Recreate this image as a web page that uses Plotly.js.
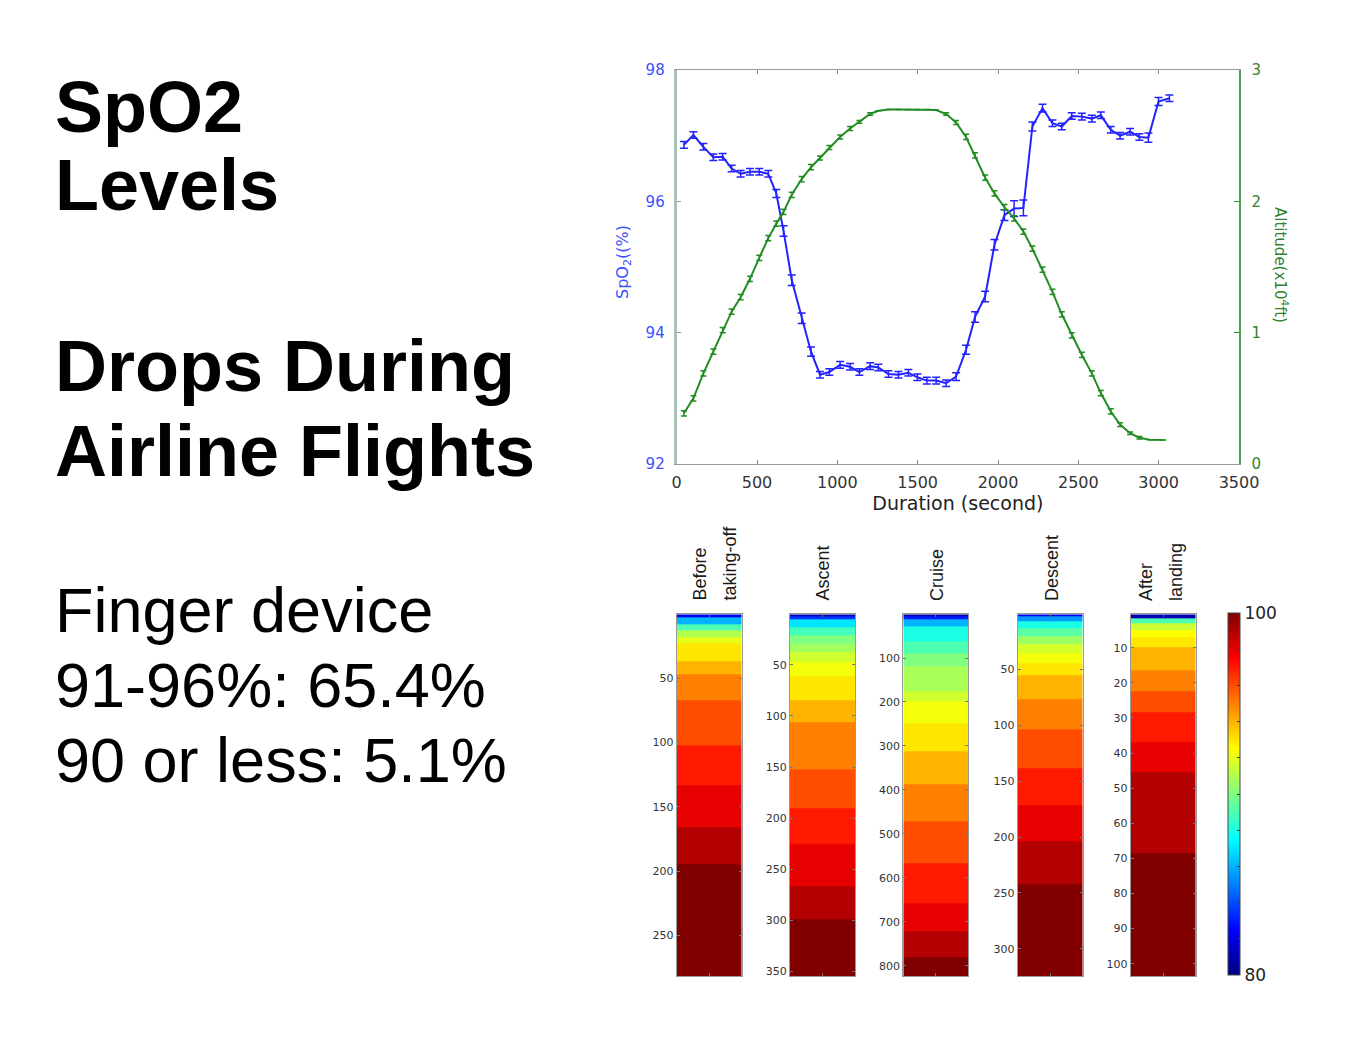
<!DOCTYPE html>
<html>
<head>
<meta charset="utf-8">
<script src="https://cdn.plot.ly/plotly-3.0.1.min.js"></script>
<style>html,body{margin:0;padding:0;background:#fff;}#chart{width:1366px;height:1038px;}</style>
</head>
<body>
<div id="chart"></div>
<script>
// ---------- DATA ----------
// Top chart: mean SpO2 (%) and altitude (x10^4 ft) vs flight duration (s)
const timeSpO2 = [45,104,166,228,286,342,398,456,514,570,620,665,716,778,836,892,950,1017,1079,1137,1204,1255,1318,1380,1442,1498,1557,1615,1677,1739,1801,1857,1920,1978,2040,2100,2158,2214,2277,2339,2397,2459,2522,2584,2640,2702,2760,2822,2880,2936,2999,3067];
const spo2 = [96.86,97.01,96.83,96.67,96.68,96.50,96.42,96.45,96.45,96.42,96.12,95.55,94.80,94.22,93.71,93.36,93.40,93.51,93.48,93.40,93.49,93.47,93.37,93.36,93.39,93.32,93.27,93.27,93.23,93.33,93.74,94.24,94.55,95.34,95.79,95.89,95.90,97.14,97.42,97.19,97.14,97.30,97.29,97.26,97.31,97.09,97.00,97.06,96.98,96.97,97.52,97.57];
const spo2Err = [0.05,0.05,0.05,0.05,0.05,0.05,0.05,0.05,0.05,0.05,0.06,0.08,0.08,0.08,0.07,0.05,0.05,0.05,0.05,0.05,0.05,0.05,0.05,0.05,0.05,0.05,0.05,0.05,0.05,0.06,0.07,0.08,0.08,0.08,0.08,0.12,0.12,0.07,0.06,0.05,0.05,0.05,0.05,0.05,0.05,0.05,0.05,0.05,0.05,0.07,0.06,0.05];
const timeAlt = [45,104,166,228,286,342,398,456,514,570,620,665,716,778,836,892,950,1017,1079,1137,1204,1255,1318,1380,1442,1498,1557,1615,1677,1739,1801,1857,1920,1978,2040,2100,2158,2214,2277,2339,2397,2459,2522,2584,2640,2702,2760,2822,2880,2945,3030];
const altitude = [0.386,0.50,0.69,0.855,1.02,1.16,1.27,1.41,1.57,1.72,1.83,1.92,2.05,2.17,2.26,2.33,2.41,2.49,2.555,2.605,2.665,2.69,2.70,2.70,2.70,2.70,2.70,2.695,2.665,2.60,2.49,2.35,2.18,2.06,1.955,1.87,1.77,1.64,1.48,1.31,1.14,0.98,0.83,0.69,0.54,0.40,0.30,0.234,0.20,0.185,0.183];
const altErr = [0.02,0.02,0.02,0.02,0.02,0.02,0.02,0.02,0.02,0.02,0.02,0.02,0.02,0.02,0.02,0.015,0.015,0.015,0.015,0.01,0.01,0,0,0,0,0,0,0,0.01,0.015,0.02,0.02,0.02,0.02,0.02,0.02,0.02,0.02,0.02,0.02,0.02,0.02,0.02,0.02,0.02,0.02,0.015,0.01,0.01,0,0];

// Bottom: sorted SpO2 readings per flight phase (band value, sample-index band edges)
const phaseNames = ["Before|taking-off", "Ascent", "Cruise", "Descent", "After|landing"];
const beforeVals  = [82,86,89,91,92,93,94,95,96,97,98,99,100];
const beforeEdges = [0.5,3,8,13,18,23,37,47,67,102,133,166,195,281.5];
const ascentVals  = [81,83.5,87,88.8,90,90.7,91.6,92.3,93,94,95,96,97,98,99,100];
const ascentEdges = [0.5,2,5,13.5,21.5,30,38,47,61,85,106,152,190,226,267,299,354.5];
const cruiseVals  = [80.8,83,86,88,89,90,90.8,91.6,92.3,93,94,95,96,97,98,99,100];
const cruiseEdges = [0.5,6,13,28,62,89,119,176,199,248,312,388,471,566,657,721,782,823.5];
const descentVals  = [82,85.5,88,89.3,90.6,91.7,92.3,93,94,95,96,97,98,99,100];
const descentEdges = [0.5,2.5,6.7,12.7,20,27.6,35,44,55,77,103.5,138,172,204,242,324.5];
const afterVals  = [81,89,91.5,92.5,93,94,95,96,97,98,99,100];
const afterEdges = [0.5,1.5,3,5,7,10,16.5,22.5,28.5,37,45.5,68.5,103.5];
const phaseTickStep = [50,50,100,50,10];
const colorbarTicks = [80,82,84,86,88,90,92,94,96,98,100];
const colorbarLabels = ["80","","","","","","","","","","100"];

// Left-side slide text
const headingLines = ["SpO2","Levels","Drops During","Airline Flights"];
const bodyLines = ["Finger device","91-96%: 65.4%","90 or less: 5.1%"];

// ---------- LAYOUT ----------
const W = 1366, H = 1038;
const px = x => x / W;
const py = y => 1 - y / H;
const BLUE = 'rgb(35,35,255)';
const GREEN = 'rgb(35,140,35)';
const tickFontFamily = 'DejaVu Sans, sans-serif';
const textFamily = 'Liberation Sans, Arial, sans-serif';

const jet = [[0,'rgb(0,0,128)'],[0.125,'rgb(0,0,255)'],[0.375,'rgb(0,255,255)'],[0.625,'rgb(255,255,0)'],[0.875,'rgb(255,0,0)'],[1,'rgb(128,0,0)']];

const traces = [];
traces.push({
  type:'scatter', mode:'lines', x: timeSpO2, y: spo2,
  line:{color:BLUE, width:2},
  error_y:{type:'data', array:spo2Err, visible:true, color:BLUE, thickness:1.5, width:4},
  xaxis:'x', yaxis:'y', showlegend:false, hoverinfo:'skip'
});
traces.push({
  type:'scatter', mode:'lines', x: timeAlt, y: altitude,
  line:{color:GREEN, width:2},
  error_y:{type:'data', array:altErr, visible:true, color:GREEN, thickness:1.5, width:3},
  xaxis:'x', yaxis:'y2', showlegend:false, hoverinfo:'skip'
});

const phases = [
  [beforeVals, beforeEdges], [ascentVals, ascentEdges], [cruiseVals, cruiseEdges],
  [descentVals, descentEdges], [afterVals, afterEdges]
];
const colLeft = [676.7, 790, 903.3, 1017.7, 1130.7];
const colWidth = 65;
const colTop = 614.3, colBottom = 976;

const layout = {
  width: W, height: H,
  margin:{l:0,r:0,t:0,b:0},
  paper_bgcolor:'#fff', plot_bgcolor:'rgba(0,0,0,0)',
  showlegend:false,
  xaxis:{
    domain:[px(676.7), px(1239)], range:[0,3500], dtick:500, tick0:0,
    ticks:'inside', ticklen:4, tickcolor:'#888', mirror:'ticks', showline:true, linecolor:'#999', linewidth:1.2,
    showgrid:false, zeroline:false, tickfont:{family:tickFontFamily, size:16, color:'#333'},
    ticklabelstandoff:4,
    title:{text:'Duration (second)', font:{family:tickFontFamily, size:19, color:'#222'}, standoff:4},
    anchor:'y'
  },
  yaxis:{
    domain:[py(464), py(70)], range:[92,98], dtick:2, tick0:92,
    ticks:'inside', ticklen:4, tickcolor:'#999', showline:true, linecolor:'rgb(165,195,182)', linewidth:3,
    showgrid:false, zeroline:false, tickfont:{family:tickFontFamily, size:15, color:'rgb(60,80,255)'},
    ticklabelstandoff:6,
    anchor:'x'
  },
  yaxis2:{
    overlaying:'y', side:'right', range:[0,3], dtick:1, tick0:0,
    ticks:'inside', ticklen:5, tickcolor:GREEN, showline:true, linecolor:'rgb(80,160,80)', linewidth:1.5,
    showgrid:false, zeroline:false, tickfont:{family:tickFontFamily, size:15, color:'rgb(50,130,50)'},
    ticklabelstandoff:8,
    anchor:'x'
  },
  annotations:[]
};

phases.forEach((p, k) => {
  const xa = 'x' + (k + 2), ya = 'y' + (k + 3);
  const last = k === phases.length - 1;
  const tr = {
    type:'heatmap', x:[0.5,1.5], y:p[1], z:p[0].map(v => [v]),
    xaxis:xa, yaxis:ya, colorscale:jet, zmin:80, zmax:100, zsmooth:false,
    showscale:last, hoverinfo:'skip'
  };
  if (last) {
    tr.colorbar = {
      x:px(1228), xanchor:'left', xpad:0, y:py((613+975)/2), yanchor:'middle', ypad:0,
      len:362/H, lenmode:'fraction', thickness:12, thicknessmode:'pixels',
      outlinewidth:1, outlinecolor:'#444',
      tickmode:'array', tickvals:colorbarTicks, ticktext:colorbarLabels,
      ticks:'inside', ticklen:3, tickcolor:'#333',
      tickfont:{family:tickFontFamily, size:17, color:'#222'}
    };
  }
  traces.push(tr);
  layout['xaxis' + (k + 2)] = {
    domain:[px(colLeft[k]), px(colLeft[k] + colWidth)], range:[0.5,1.5],
    tickmode:'array', tickvals:[1], ticks:'inside', ticklen:3, tickcolor:'#777',
    showticklabels:false, showline:true, mirror:'ticks', linecolor:'#999', linewidth:1,
    showgrid:false, zeroline:false, anchor:ya
  };
  layout['yaxis' + (k + 3)] = {
    domain:[py(colBottom), py(colTop)], autorange:'reversed',
    dtick:phaseTickStep[k], tick0:0, ticks:'inside', ticklen:3, tickcolor:'#777',
    showline:true, mirror:'ticks', linecolor:'#999', linewidth:1,
    showgrid:false, zeroline:false, tickfont:{family:tickFontFamily, size:11, color:'#333'},
    anchor:xa
  };
});

// axis titles of the top chart
layout.annotations.push({
  xref:'paper', yref:'paper', x:px(623), y:py(262), xanchor:'center', yanchor:'middle',
  text:'SpO<sub>2</sub>((%)', textangle:-90, showarrow:false,
  font:{family:tickFontFamily, size:16, color:'rgb(60,80,255)'}
});
layout.annotations.push({
  xref:'paper', yref:'paper', x:px(1281), y:py(265), xanchor:'center', yanchor:'middle',
  text:'Altitude(x10<sup>4</sup>ft)', textangle:90, showarrow:false,
  font:{family:tickFontFamily, size:15, color:'rgb(50,130,50)'}
});

// phase titles (rotated)
const titleCenters = [[699,729],[822],[937],[1052],[1146,1176]];
phaseNames.forEach((name, k) => {
  const parts = name.split('|');
  parts.forEach((t, j) => {
    layout.annotations.push({
      xref:'paper', yref:'paper', x:px(titleCenters[k][j]), y:py(603),
      xanchor:'center', yanchor:'bottom', text:t, textangle:-90, showarrow:false,
      font:{family:textFamily, size:18, color:'#1a1a1a'}
    });
  });
});

// slide text
const headBase = [132, 210, 391, 476];
headingLines.forEach((t, i) => {
  const F = 72;
  layout.annotations.push({
    xref:'paper', yref:'paper', x:px(53), y:py(headBase[i] - 0.3465 * F), xanchor:'left', yanchor:'middle',
    text:'<b>' + t + '</b>', showarrow:false, font:{family:textFamily, size:F, color:'#000'}
  });
});
const bodyBase = [632, 707, 782];
bodyLines.forEach((t, i) => {
  const F = 63;
  layout.annotations.push({
    xref:'paper', yref:'paper', x:px(53), y:py(bodyBase[i] - 0.3465 * F), xanchor:'left', yanchor:'middle',
    text:t, showarrow:false, font:{family:textFamily, size:F, color:'#000'}
  });
});

Plotly.newPlot('chart', traces, layout, {staticPlot:true, displayModeBar:false});
</script>
</body>
</html>
